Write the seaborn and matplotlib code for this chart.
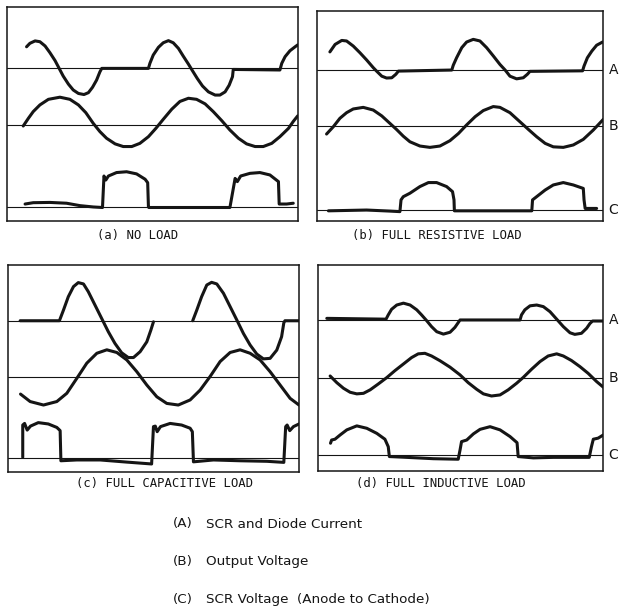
import numpy as np
import pandas as pd
import matplotlib
matplotlib.use("Agg")
import matplotlib.pyplot as plt
import matplotlib.transforms as mtransforms
import seaborn as sns

# Oscillograms of a single-SCR circuit.
# Time is in electrical degrees from the left of the screen,
# amplitude in screen divisions above each trace's zero line.
# NaN splits a trace into separate strokes.

# (a) no load
noload_a_t = [52, 61, 75, 88, 102, 115, 129, 140, 151, 165, 178, 192, 207, 219, 230, 241, 250, 255, 381, 385,
              394, 408, 421, 435, 448, 462, 475, 489, 500, 513, 527, 543, 561, 574, 588, 599, 608, 610, 736, 741,
              750, 763, 777, 784]
noload_a_v = [0.81, 0.94, 1.03, 1.0, 0.84, 0.59, 0.29, 0, -0.29, -0.59, -0.81, -0.94, -0.98, -0.91, -0.71, -0.44, -0.13, 0, 0, 0.19,
              0.5, 0.79, 0.96, 1.04, 0.96, 0.75, 0.46, 0.16, -0.09, -0.38, -0.66, -0.88, -1.0, -1.0, -0.88, -0.63, -0.31, -0.04, -0.06, 0.19,
              0.44, 0.66, 0.81, 0.88]
noload_b_t = [43, 57, 70, 88, 111, 142, 169, 192, 212, 232, 250, 268, 291, 313, 336, 358, 381, 401, 421, 444,
              466, 489, 511, 534, 556, 579, 601, 624, 646, 669, 691, 714, 736, 759, 772, 784]
noload_b_v = [-0.04, 0.25, 0.5, 0.75, 0.96, 1.04, 0.96, 0.75, 0.46, 0.06, -0.25, -0.5, -0.71, -0.81, -0.81, -0.69, -0.44, -0.13, 0.21, 0.59,
              0.88, 1.0, 0.96, 0.79, 0.5, 0.16, -0.19, -0.5, -0.71, -0.81, -0.81, -0.69, -0.44, -0.13, 0.13, 0.34]
noload_c_t = [48, 70, 115, 160, 196, 232, 257, 261, 266, 273, 295, 322, 349, 372, 379, 381, 382, 601, 615, 621,
              630, 655, 682, 709, 732, 734, 754, 772]
noload_c_v = [0.1, 0.15, 0.16, 0.13, 0.04, -0.01, -0.03, 1.15, 1.0, 1.15, 1.28, 1.31, 1.23, 1.03, 0.9, 0, -0.03, -0.03, 1.06, 0.94,
              1.15, 1.25, 1.28, 1.19, 0.94, 0.1, 0.1, 0.13]

# (b) full resistive load
resist_a_t = [34, 48, 66, 79, 97, 115, 133, 151, 160, 174, 187, 201, 212, 219, 363, 367, 376, 390, 403, 421,
              439, 457, 475, 493, 507, 520, 538, 556, 567, 574, 716, 720, 729, 741, 754, 770]
resist_a_v = [0.68, 0.96, 1.11, 1.09, 0.9, 0.65, 0.38, 0.09, -0.04, -0.23, -0.3, -0.29, -0.16, -0.04, 0, 0.18, 0.46, 0.84, 1.05, 1.15,
              1.09, 0.84, 0.53, 0.21, 0, -0.23, -0.33, -0.29, -0.16, -0.05, -0.03, 0.15, 0.46, 0.71, 0.93, 1.05]
resist_b_t = [25, 43, 61, 79, 97, 124, 151, 174, 196, 214, 232, 250, 277, 304, 331, 358, 381, 403, 426, 448,
              475, 493, 520, 547, 570, 592, 615, 637, 664, 691, 718, 745, 772]
resist_b_v = [-0.3, -0.03, 0.29, 0.5, 0.64, 0.7, 0.6, 0.38, 0.1, -0.13, -0.38, -0.59, -0.75, -0.8, -0.75, -0.55, -0.28, 0.04, 0.35, 0.58,
              0.73, 0.7, 0.5, 0.16, -0.13, -0.4, -0.65, -0.78, -0.8, -0.71, -0.5, -0.15, 0.25]
resist_c_t = [30, 133, 196, 223, 226, 232, 250, 277, 300, 322, 349, 365, 369, 370, 493, 579, 581, 592, 615, 637,
              664, 691, 718, 720, 723, 754]
resist_c_v = [-0.03, 0, -0.04, -0.06, 0.38, 0.5, 0.63, 0.88, 1.03, 1.03, 0.88, 0.69, 0.38, -0.03, -0.03, -0.03, 0.38, 0.5, 0.75, 0.94,
              1.03, 0.94, 0.81, 0.38, 0.06, 0.06]

# (c) full capacitive load
capac_a_t = [32, 138, 149, 162, 176, 189, 203, 216, 234, 252, 270, 288, 306, 324, 338, 356, 374, 385, 392, np.nan,
             498, 509, 522, 536, 549, 563, 581, 599, 617, 635, 653, 671, 689, 707, 725, 738, 744, 747, 785]
capac_a_v = [0, 0, 0.4, 0.9, 1.28, 1.43, 1.38, 1.09, 0.59, 0.09, -0.41, -0.85, -1.2, -1.38, -1.38, -1.16, -0.79, -0.35, -0.04, np.nan,
             0, 0.4, 0.9, 1.34, 1.44, 1.38, 1.03, 0.53, 0.03, -0.48, -0.91, -1.25, -1.43, -1.41, -1.1, -0.6, -0.08, 0, 0]
capac_b_t = [33, 59, 95, 131, 158, 185, 212, 239, 266, 293, 320, 347, 374, 401, 428, 459, 491, 518, 545, 572,
             599, 626, 653, 680, 707, 734, 761, 785]
capac_b_v = [-0.63, -0.91, -1.04, -0.91, -0.6, -0.04, 0.53, 0.9, 1.03, 0.93, 0.65, 0.21, -0.29, -0.73, -0.98, -1.04, -0.85, -0.48, 0.03, 0.59,
             0.93, 1.03, 0.9, 0.65, 0.21, -0.29, -0.79, -1.04]
capac_c_t = [39, 39, 44, 51, 60, 81, 108, 131, 140, 142, 185, 248, 320, 387, 392, 397, 402, 411, 437, 468,
             491, 497, 500, 554, 626, 698, 744, 749, 753, 760, 770, 785]
capac_c_v = [0.04, 1.25, 1.31, 1.06, 1.21, 1.34, 1.29, 1.16, 1.04, -0.09, -0.06, -0.06, -0.14, -0.21, 1.19, 1.21, 1.0, 1.19, 1.31, 1.25,
             1.13, 1.0, -0.13, -0.06, -0.09, -0.11, -0.15, 1.19, 1.25, 1.04, 1.19, 1.29]

# (d) full inductive load
induct_a_t = [23, 183, 189, 198, 212, 230, 248, 266, 279, 293, 306, 320, 338, 356, 369, 378, 383, 545, 549, 558,
              572, 590, 608, 626, 644, 662, 680, 693, 711, 725, 734, 741, 770]
induct_a_v = [0.06, 0.03, 0.19, 0.4, 0.56, 0.63, 0.56, 0.38, 0.19, -0.03, -0.25, -0.44, -0.53, -0.46, -0.28, -0.1, 0, 0, 0.19, 0.38,
              0.53, 0.56, 0.5, 0.31, 0.03, -0.25, -0.48, -0.54, -0.5, -0.31, -0.13, -0.04, -0.04]
induct_b_t = [32, 50, 68, 86, 104, 122, 140, 162, 185, 207, 230, 252, 270, 288, 306, 329, 356, 383, 405, 428,
              446, 468, 491, 513, 536, 554, 576, 599, 621, 644, 662, 684, 707, 729, 752, 770]
induct_b_v = [0.06, -0.19, -0.4, -0.55, -0.61, -0.59, -0.46, -0.24, 0, 0.26, 0.51, 0.75, 0.89, 0.91, 0.81, 0.63, 0.39, 0.1, -0.19, -0.44,
              -0.61, -0.69, -0.65, -0.46, -0.21, 0.01, 0.31, 0.6, 0.81, 0.89, 0.81, 0.64, 0.41, 0.16, -0.15, -0.36]
induct_c_t = [33, 36, 45, 59, 77, 104, 131, 158, 180, 189, 192, 239, 311, 378, 383, 387, 401, 419, 437, 464,
              491, 518, 537, 540, 581, 635, 698, 732, 738, 743, 756, 770]
induct_c_v = [0.44, 0.56, 0.59, 0.75, 0.94, 1.09, 1.0, 0.81, 0.59, 0.31, -0.06, -0.09, -0.14, -0.16, 0.19, 0.5, 0.56, 0.79, 0.96, 1.06,
              0.94, 0.69, 0.46, -0.06, -0.11, -0.09, -0.09, -0.09, 0.31, 0.59, 0.63, 0.75]

trace_names = ["A", "B", "C"]
panel_titles = ["(a) NO LOAD", "(b) FULL RESISTIVE LOAD",
                "(c) FULL CAPACITIVE LOAD", "(d) FULL INDUCTIVE LOAD"]
legend_keys = ["(A)", "(B)", "(C)"]
legend_texts = ["SCR and Diode Current", "Output Voltage", "SCR Voltage  (Anode to Cathode)"]

panels = [
    [(noload_a_t, noload_a_v), (noload_b_t, noload_b_v), (noload_c_t, noload_c_v)],
    [(resist_a_t, resist_a_v), (resist_b_t, resist_b_v), (resist_c_t, resist_c_v)],
    [(capac_a_t, capac_a_v), (capac_b_t, capac_b_v), (capac_c_t, capac_c_v)],
    [(induct_a_t, induct_a_v), (induct_b_t, induct_b_v), (induct_c_t, induct_c_v)],
]

# ---- layout (figure pixels) ----
W, H = 621, 608
boxes = [(7.3, 297.7, 7.3, 220.7), (317.3, 603.3, 10.7, 220.7),
         (8.3, 299.0, 265.0, 471.7), (318.3, 603.3, 265.0, 470.7)]
sweep = [784, 772, 785, 770]                      # screen width in degrees
screen_div = [8.0, 7.875, 7.75, 7.71]             # screen height in divisions
zero_lines = [(5.71, 3.59, 0.525), (5.65, 3.55, 0.40),
              (5.66, 3.54, 0.50), (5.65, 3.49, 0.59)]
title_pos = [(138, 235), (437, 235), (165, 483), (441, 483)]
show_letters = [False, True, False, True]

ink = "#151515"
sns.set_theme(style="white")
plt.rcParams["font.family"] = ["DejaVu Sans"]

fig = plt.figure(figsize=(W / 100, H / 100), dpi=100)
fig.patch.set_facecolor("white")


def trace_frame(t, v, offset, name):
    t = np.asarray(t, dtype=float)
    v = np.asarray(v, dtype=float)
    seg = np.cumsum(np.isnan(t))
    df = pd.DataFrame({"t": t, "v": v + offset, "seg": [f"{name}{s}" for s in seg]})
    return df.dropna()


for i, (traces, box) in enumerate(zip(panels, boxes)):
    l, r, top, bot = box
    ax = fig.add_axes([l / W, 1 - bot / H, (r - l) / W, (bot - top) / H])
    ax.set_xlim(0, sweep[i])
    ax.set_ylim(0, screen_div[i])
    frames = [trace_frame(t, v, z, n) for (t, v), z, n in zip(traces, zero_lines[i], trace_names)]
    df = pd.concat(frames, ignore_index=True)
    for z in zero_lines[i]:
        ax.axhline(z, color=ink, lw=0.8, zorder=1)
    sns.lineplot(data=df, x="t", y="v", units="seg", estimator=None, sort=False,
                 color=ink, linewidth=2.2, ax=ax, legend=False, zorder=3,
                 solid_joinstyle="round", solid_capstyle="round")
    ax.set_xticks([])
    ax.set_yticks([])
    ax.set_xlabel("")
    ax.set_ylabel("")
    for s in ax.spines.values():
        s.set_visible(True)
        s.set_color(ink)
        s.set_linewidth(1.1)
    if show_letters[i]:
        tr = mtransforms.blended_transform_factory(ax.transAxes, ax.transData)
        for z, n in zip(zero_lines[i], trace_names):
            ax.text(1.035, z, n, transform=tr, ha="center", va="center",
                    fontsize=10, color=ink, clip_on=False)
    tx, ty = title_pos[i]
    fig.text(tx / W, 1 - ty / H, panel_titles[i], ha="center", va="center",
             fontsize=8.8, color=ink, family="DejaVu Sans Mono")

for k, (key, txt) in enumerate(zip(legend_keys, legend_texts)):
    y = 1 - (524 + 37.5 * k) / H
    fig.text(173 / W, y, key, ha="left", va="center", fontsize=9.7, color=ink)
    fig.text(206 / W, y, txt, ha="left", va="center", fontsize=9.7, color=ink)

fig.savefig("out.png", dpi=100, facecolor="white")
